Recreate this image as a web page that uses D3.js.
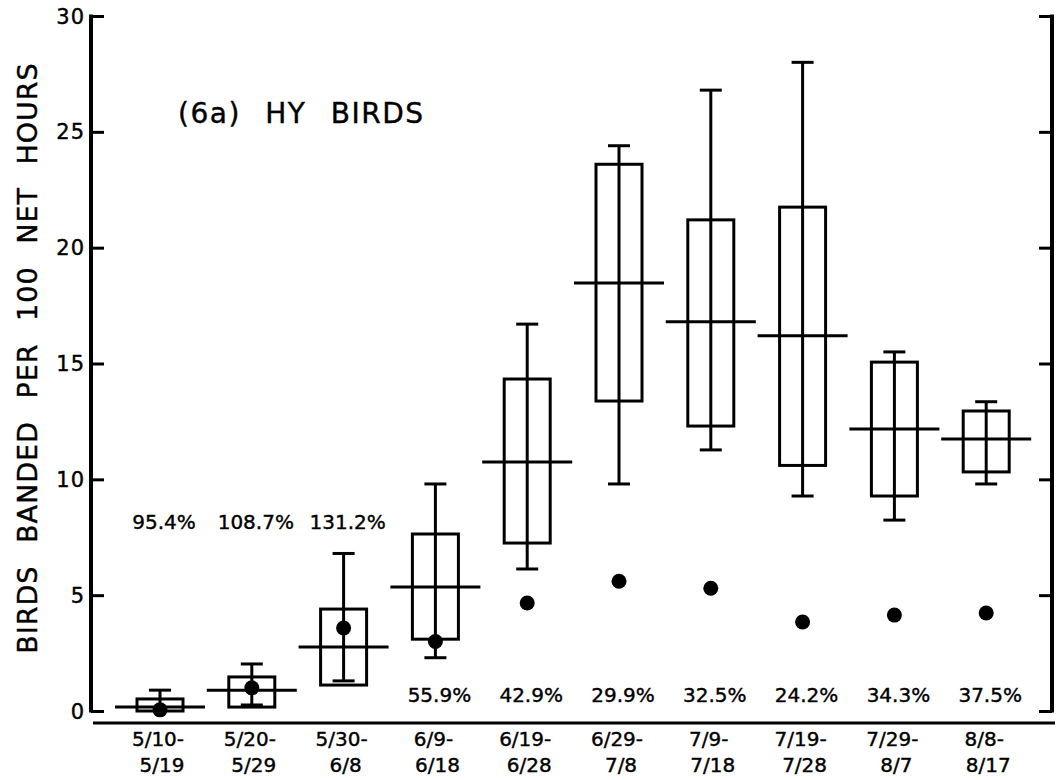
<!DOCTYPE html>
<html>
<head>
<meta charset="utf-8">
<script src="https://cdn.jsdelivr.net/npm/d3@7"></script>
<style>
  body { margin: 0; background: #fff; }
  text { font-family: "DejaVu Sans", sans-serif; fill: #000; stroke: #000; stroke-width: 0.4px; }
</style>
</head>
<body>
<svg id="chart" width="1057" height="780"></svg>
<script>
// periods (two-line tick labels)
const periods = [
    ["5/10-", "5/19"], ["5/20-", "5/29"], ["5/30-", "6/8"], ["6/9-", "6/18"], ["6/19-", "6/28"],
    ["6/29-", "7/8"], ["7/9-", "7/18"], ["7/19-", "7/28"], ["7/29-", "8/7"], ["8/8-", "8/17"]
];
const whiskerHigh = [0.9, 2.03, 6.8, 9.8, 16.7, 24.4, 26.8, 28.0, 15.5, 13.35];
const boxHigh     = [0.52, 1.47, 4.4, 7.64, 14.33, 23.6, 21.2, 21.75, 15.06, 12.95];
const medians     = [0.17, 0.9, 2.76, 5.35, 10.75, 18.47, 16.8, 16.2, 12.17, 11.74];
const boxLow      = [0.0, 0.17, 1.12, 3.1, 7.25, 13.38, 12.3, 10.6, 9.28, 10.32];
const whiskerLow  = [0.0, 0.26, 1.3, 2.3, 6.13, 9.8, 11.27, 9.28, 8.24, 9.8];
const dots        = [0.05, 1.0, 3.58, 3.0, 4.66, 5.6, 5.3, 3.84, 4.14, 4.23];
const percents    = ["95.4%", "108.7%", "131.2%", "55.9%", "42.9%", "29.9%", "32.5%", "24.2%", "34.3%", "37.5%"];
const yTicks = [0, 5, 10, 15, 20, 25, 30];

const svg = d3.select("#chart");
const ids = periods.map((p, i) => i);

const x = d3.scaleBand().domain(ids).range([114.1, 1032.1]);
const y = d3.scaleLinear().domain([0, 30]).range([711, 16]);
const cx = i => x(i) + x.bandwidth() / 2;

const boxW = 46, medW = 90, capW = 22;
const stroke = 3;

// left axis
const left = svg.append("g").attr("transform", "translate(91,0)")
    .call(d3.axisRight(y).tickValues(yTicks).tickSize(13).tickFormat(""));
left.select(".domain").remove();
left.selectAll(".tick line").attr("stroke", "#000").attr("stroke-width", 3);
svg.append("line").attr("x1", 91).attr("x2", 91).attr("y1", y(30) - 1.5).attr("y2", y(0) + 1.5)
    .attr("stroke", "#000").attr("stroke-width", 4);

svg.append("g").selectAll("text").data(yTicks).join("text")
    .attr("x", 85).attr("y", d => y(d)).attr("dy", "0.36em")
    .attr("text-anchor", "end").style("font-size", "21px").style("letter-spacing", "1px")
    .text(d => d);

// right axis
const right = svg.append("g").attr("transform", "translate(1052,0)")
    .call(d3.axisLeft(y).tickValues(yTicks).tickSize(13).tickFormat(""));
right.select(".domain").remove();
right.selectAll(".tick line").attr("stroke", "#000").attr("stroke-width", 3);
svg.append("line").attr("x1", 1052).attr("x2", 1052).attr("y1", y(30) - 1.5).attr("y2", y(0) + 1.5)
    .attr("stroke", "#000").attr("stroke-width", 4);

// bottom line
svg.append("line").attr("x1", 93).attr("x2", 1055).attr("y1", 723).attr("y2", 723)
    .attr("stroke", "#000").attr("stroke-width", 3);

// x labels
const xl = svg.append("g").selectAll("text").data(periods).join("text")
    .attr("text-anchor", "middle").style("font-size", "20px");
xl.append("tspan").attr("x", (d, i) => cx(i) - 2).attr("y", 746).text(d => d[0]);
xl.append("tspan").attr("x", (d, i) => cx(i) + 2).attr("y", 772).text(d => d[1]);

// boxes
const g = svg.append("g").attr("stroke", "#000").attr("stroke-width", stroke).attr("fill", "none");

g.selectAll(".whisker").data(ids).join("line")
    .attr("x1", cx).attr("x2", cx)
    .attr("y1", i => y(whiskerLow[i])).attr("y2", i => y(whiskerHigh[i]));

g.selectAll(".capHi").data(ids).join("line")
    .attr("x1", i => cx(i) - capW / 2).attr("x2", i => cx(i) + capW / 2)
    .attr("y1", i => y(whiskerHigh[i])).attr("y2", i => y(whiskerHigh[i]));

g.selectAll(".capLo").data(ids.filter(i => whiskerLow[i] > 0)).join("line")
    .attr("x1", i => cx(i) - capW / 2).attr("x2", i => cx(i) + capW / 2)
    .attr("y1", i => y(whiskerLow[i])).attr("y2", i => y(whiskerLow[i]));

g.selectAll("rect").data(ids).join("rect")
    .attr("x", i => cx(i) - boxW / 2).attr("width", boxW)
    .attr("y", i => y(boxHigh[i])).attr("height", i => y(boxLow[i]) - y(boxHigh[i]));

g.selectAll(".median").data(ids).join("line")
    .attr("x1", i => cx(i) - medW / 2).attr("x2", i => cx(i) + medW / 2)
    .attr("y1", i => y(medians[i])).attr("y2", i => y(medians[i]));

svg.append("g").selectAll("circle").data(ids).join("circle")
    .attr("cx", cx).attr("cy", i => y(dots[i])).attr("r", 7.5).attr("fill", "#000");

// percentages
svg.append("g").selectAll("text").data(ids).join("text")
    .attr("x", i => cx(i) + 4).attr("y", i => i < 3 ? y(7.85) : y(0.39))
    .attr("text-anchor", "middle").style("font-size", "20px")
    .text(i => percents[i]);

// title
svg.append("text").attr("x", 178).attr("y", 123)
    .style("font-size", "28px").style("letter-spacing", "1.5px").style("word-spacing", "14px")
    .text("(6a) HY BIRDS");

// y axis title
svg.append("text").attr("transform", "translate(37,358) rotate(-90)")
    .attr("text-anchor", "middle").style("font-size", "27px")
    .style("letter-spacing", "1px").style("word-spacing", "13px")
    .text("BIRDS BANDED PER 100 NET HOURS");
</script>
</body>
</html>
